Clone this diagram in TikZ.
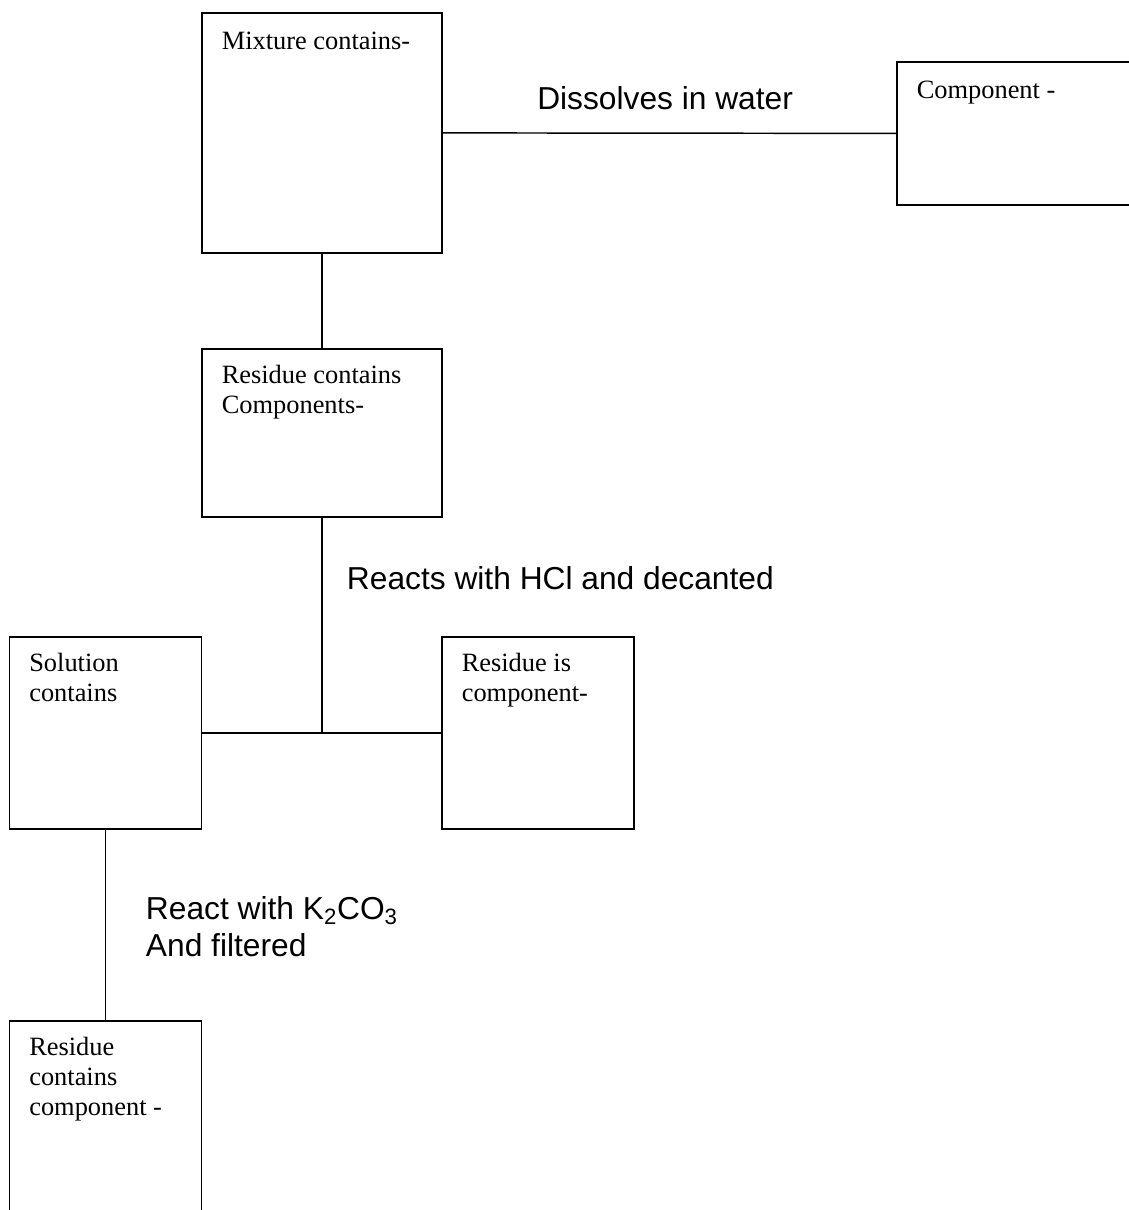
\documentclass[tikz,border=0pt]{standalone}
\usepackage{fontspec}
\setmainfont{Liberation Serif}
\newfontfamily\labelfont{Liberation Sans}

\tikzset{
	box/.style={draw,line width=1.35pt,anchor=north west,inner sep=0pt},
	txt/.style={anchor=north west,align=left,inner sep=0pt,font=\fontsize{19.8}{22.5}\selectfont,execute at begin node={\rule{0pt}{15pt}}},
	lbl/.style={anchor=north west,align=left,inner sep=0pt,font=\labelfont\fontsize{23.8}{27.75}\selectfont,execute at begin node={\rule{0pt}{19pt}}},
	link/.style={line width=1.1pt}
}

\begin{document}
\begin{tikzpicture}[x=0.75pt,y=-0.75pt]

	\useasboundingbox (0,0) rectangle (1128,1210);

	\node[box,minimum width=180pt,minimum height=180pt] at (201,12) (1) {};
	\node[box,minimum width=183pt,minimum height=107.25pt] at (896,61) (2) {};
	\node[box,minimum width=180pt,minimum height=126pt] at (201,348) (3) {};
	
	\node[box,minimum width=144pt,minimum height=144pt] at (8.5,636) (4) {};
	\node[box,minimum width=144pt,minimum height=144pt] at (441,636) (5) {};
	\node[box,minimum width=144pt,minimum height=157.5pt] at (8.5,1020) (6) {};
	
	\node[txt] at ([xshift=15.4pt,yshift=-13pt]1.north west) (1t) {Mixture contains-};
	\node[txt] at ([xshift=15.4pt,yshift=-13pt]2.north west) (2t) {Component -};
	\node[txt] at ([xshift=15.4pt,yshift=-13pt]3.north west) (3t) {Residue contains\\Components-};
	\node[txt] at ([xshift=15.4pt,yshift=-13pt]4.north west) (4t) {Solution\\contains};
	\node[txt] at ([xshift=15.4pt,yshift=-13pt]5.north west) (5t) {Residue is\\component-};
	\node[txt] at ([xshift=15.4pt,yshift=-13pt]6.north west) (6t) {Residue\\contains\\component -};
	
	\coordinate (j) at (3.south |- 4.east);
	
	\draw[link] (1.east) to (2.west);
	\draw[line width=1.6pt] (1.south) to (3.north);
	\draw[link] (3.south) to (j);
	\draw[link] (4.east) to (5.west);
	\draw[link] (4.south) to (6.north);
	
	% Steps
	\node[lbl] at (537,84) (l1) {Dissolves in water};
	\node[lbl] at (346.7,564) (l2) {Reacts with HCl and decanted};
	\node[lbl] at (145.7,896) (l3) {React with K\textsubscript{2}CO\textsubscript{3}\\And filtered};
\end{tikzpicture}
\end{document}
